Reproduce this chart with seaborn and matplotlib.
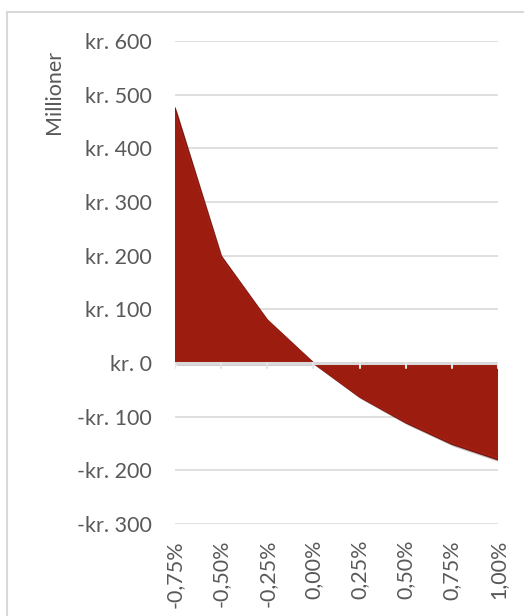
import matplotlib
matplotlib.use("Agg")
import matplotlib.pyplot as plt
import matplotlib.patheffects as pe
from matplotlib.lines import Line2D
import seaborn as sns
import pandas as pd
import numpy as np

# Rate change scenarios and resulting value impact (in millions of kr.)
scenarios = ["-0,75%", "-0,50%", "-0,25%", "0,00%", "0,25%", "0,50%", "0,75%", "1,00%"]
impact = [475, 199, 80, 0, -63, -111, -151, -180]
y_ticks = [-300, -200, -100, 0, 100, 200, 300, 400, 500, 600]

df = pd.DataFrame({"scenario": scenarios, "impact": impact})
df["pos"] = range(len(df))

sns.set_theme(style="white")
plt.rcParams["font.family"] = ["Lato", "DejaVu Sans"]

W, H = 524, 616
fig = plt.figure(figsize=(W / 100, H / 100), dpi=100)
ax = fig.add_axes([175 / W, 1 - 524 / H, (498 - 175) / W, (524 - 41) / H])

text_color = "#595959"
grid_color = "#D9D9D9"
fill_color = "#9C1C10"
fs = 15.5

# gridlines
for t in y_ticks:
    if t != 0:
        ax.axhline(t, color=grid_color, lw=1.2, zorder=0)

# area between the curve and zero
shadow = [pe.SimplePatchShadow(offset=(1.5, -2), shadow_rgbFace="#000000", alpha=0.25),
          pe.Normal()]
ax.fill_between(df["pos"], df["impact"], 0, color=fill_color, lw=0,
                zorder=2, path_effects=shadow)
sns.lineplot(data=df, x="pos", y="impact", ax=ax, color="#7A140B", lw=1.2,
             zorder=3)
# lighter inner highlight along the edge
sns.lineplot(x=df["pos"], y=np.array(impact) * 0.985, ax=ax, color="#B3261A",
             lw=1.0, alpha=0.6, zorder=3)

# zero axis with category ticks
ax.axhline(0, color=grid_color, lw=2.2, zorder=4)
for p in df["pos"]:
    ax.add_line(Line2D([p, p], [0, -9], color="#E6E6E6", lw=1.5, zorder=4))

ax.set_xlim(0, len(scenarios) - 1)
ax.set_ylim(-300, 600)
ax.set_yticks(y_ticks)
ax.set_yticklabels([(f"kr. {t}" if t >= 0 else f"-kr. {abs(t)}") for t in y_ticks],
                   color=text_color, fontsize=fs)
ax.set_xticks(df["pos"])
ax.set_xticklabels(scenarios, rotation=90, color=text_color, fontsize=fs)
ax.tick_params(axis="y", length=0, pad=16.5)
ax.tick_params(axis="x", length=0, pad=11.5)
ax.set_xlabel("")
ax.set_ylabel("")
for s in ax.spines.values():
    s.set_visible(False)

fig.text(54 / W, 1 - 92 / H, "Millioner", rotation=90, ha="center", va="center",
         color=text_color, fontsize=fs)

# outer chart frame
fig.add_artist(Line2D([7 / W, 1], [1 - 12 / H, 1 - 12 / H], color=grid_color, lw=1.5,
                      transform=fig.transFigure))
fig.add_artist(Line2D([7 / W, 7 / W], [0, 1 - 12 / H], color=grid_color, lw=1.5,
                      transform=fig.transFigure))

fig.savefig("out.png", dpi=100)
